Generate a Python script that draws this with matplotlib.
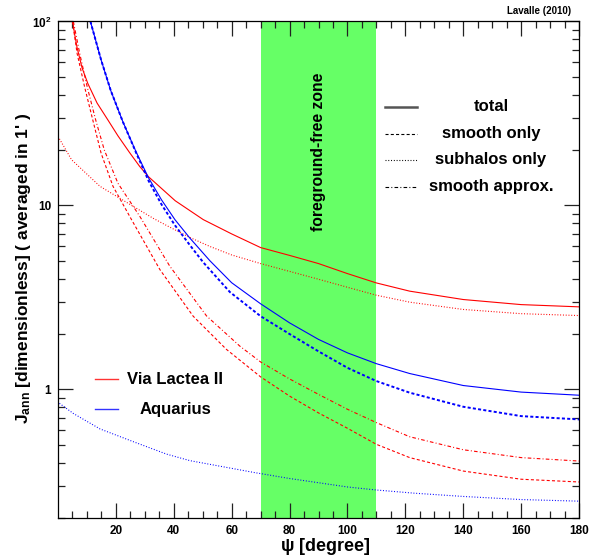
import numpy as np
import matplotlib
matplotlib.use("Agg")
from matplotlib import pyplot as plt
from matplotlib.lines import Line2D
import matplotlib.transforms as mtransforms

plt.rcParams['font.family'] = ['Liberation Sans', 'DejaVu Sans']
plt.rcParams['font.weight'] = 'bold'
plt.rcParams['mathtext.fontset'] = 'custom'
plt.rcParams['mathtext.rm'] = 'Liberation Sans:bold'
plt.rcParams['mathtext.bf'] = 'Liberation Sans:bold'
plt.rcParams['mathtext.it'] = 'Liberation Sans:bold'
plt.rcParams['lines.scale_dashes'] = False

# Via Lactea II
vl_tot_x = [5.1, 5.7, 6.6, 8.3, 10.3, 13.5, 17.2, 20.7, 24.7, 28.2, 31.3, 40.5, 50.2, 60, 70, 80, 90, 100, 110, 121.5, 140, 160, 180]
vl_tot_y = [100, 86, 72, 56, 46, 36, 29.2, 23.9, 19.4, 16.3, 14.3, 10.6, 8.37, 7.0, 5.9, 5.35, 4.83, 4.26, 3.79, 3.42, 3.08, 2.89, 2.81]

vl_sm_x = [5.0, 6.6, 9.2, 12, 14.9, 19, 25.4, 35.2, 46.7, 58.2, 70, 80, 90, 100, 110, 121.5, 140, 160, 180]
vl_sm_y = [100, 67, 44, 29.2, 19.2, 12.7, 8.37, 4.48, 2.50, 1.65, 1.17, 0.92, 0.745, 0.615, 0.503, 0.426, 0.36, 0.325, 0.314]

vl_sub_x = [0.5, 4.7, 14.5, 25.9, 32.9, 37.5, 45.5, 52.5, 60, 70, 80, 90, 100, 110, 121.5, 140, 160, 180]
vl_sub_y = [23, 17.7, 12.7, 9.9, 8.51, 7.78, 6.70, 5.98, 5.38, 4.83, 4.38, 3.97, 3.59, 3.25, 2.98, 2.72, 2.58, 2.52]

vl_ap_x = [5.3, 7.5, 10.1, 13, 16, 20.7, 28.3, 38.6, 51.3, 62.8, 70, 80, 90, 100, 110, 121.5, 140, 160, 180]
vl_ap_y = [100, 67, 44, 29.2, 20.0, 13.2, 8.7, 4.68, 2.51, 1.72, 1.41, 1.14, 0.94, 0.78, 0.66, 0.553, 0.470, 0.426, 0.408]

# Aquarius
aq_tot_x = [11.2, 14.9, 18.2, 22.4, 27, 31.3, 35.8, 40.4, 45.5, 52.5, 60, 70, 80, 90, 100, 110, 121.5, 140, 160, 180]
aq_tot_y = [100, 61.7, 42.2, 28.5, 19.5, 14.1, 10.7, 8.37, 6.66, 5.0, 3.8, 2.92, 2.30, 1.87, 1.58, 1.38, 1.22, 1.05, 0.967, 0.93]

aq_sm_x = [11.2, 14.9, 18.2, 22.4, 27, 31.3, 35.8, 40.4, 45.5, 50.2, 59.4, 70, 80, 90, 100, 110, 121.5, 140, 160, 180]
aq_sm_y = [100, 61.7, 42.2, 28.5, 19.3, 13.6, 10.1, 7.8, 6.1, 4.9, 3.38, 2.5, 2.00, 1.61, 1.31, 1.11, 0.96, 0.805, 0.716, 0.687]

aq_sub_x = [0.5, 5.3, 14.5, 26, 37.5, 45.6, 68, 80, 100, 110, 123, 140, 160, 180]
aq_sub_y = [0.84, 0.74, 0.61, 0.52, 0.445, 0.41, 0.353, 0.328, 0.295, 0.284, 0.273, 0.262, 0.252, 0.247]

zone = (70, 110)
xticks = [20, 40, 60, 80, 100, 120, 140, 160, 180]
yticks = [1, 10, 100]
ylabels = ['1', '10', r'$\mathbf{10^{2}}$']

DASH = (0, (2.2, 1.6))
DOT = (0, (0.7, 1.3))
DASHDOT = (0, (2.6, 1.6, 0.7, 1.6))

fig = plt.figure(figsize=(5.93, 5.56), dpi=100)
ax = fig.add_axes([0.0978, 0.0683, 0.9764 - 0.0978, 0.9615 - 0.0683])

ax.axvspan(zone[0], zone[1], color='#66ff66', lw=0, zorder=0)

red = '#ff0000'
blue = '#0000ff'
ax.plot(vl_tot_x, vl_tot_y, color=red, lw=0.8)
ax.plot(vl_sm_x, vl_sm_y, color=red, lw=0.8, ls=DASH)
ax.plot(vl_sub_x, vl_sub_y, color=red, lw=0.8, ls=DOT)
ax.plot(vl_ap_x, vl_ap_y, color=red, lw=0.8, ls=DASHDOT)
ax.plot(aq_tot_x, aq_tot_y, color=blue, lw=0.8)
ax.plot(aq_sm_x, aq_sm_y, color=blue, lw=1.4, ls=DASH)
ax.plot(aq_sub_x, aq_sub_y, color=blue, lw=0.8, ls=DOT)

ax.set_yscale('log')
ax.set_xlim(0, 180)
ax.set_ylim(0.2, 100)
ax.set_xticks(xticks)
ax.set_xticks(np.arange(5, 180, 5), minor=True)
ax.set_yticks(yticks)
ax.set_yticklabels(ylabels)
ax.yaxis.set_minor_formatter(matplotlib.ticker.NullFormatter())
ax.tick_params(which='both', direction='in', top=True, right=True, labelsize=8.5, width=0.9, color='#222222')
ax.tick_params(which='major', length=10.5, pad=5)
ax.tick_params(which='minor', length=5)
for s in ax.spines.values():
    s.set_linewidth(0.9)

# foreground zone label
trans = mtransforms.blended_transform_factory(ax.transData, ax.transAxes)
ax.text(90, 0.737, 'foreground-free zone', transform=trans, rotation=90,
        ha='center', va='center', fontsize=11.3, fontweight='bold')

# line style legend
styles = [('total', '-', 1.8, '#555555'), ('smooth only', DASH, 0.8, 'black'),
          ('subhalos only', DOT, 0.8, 'black'), ('smooth approx.', DASHDOT, 0.8, 'black')]
rows = [0.828, 0.774, 0.721, 0.667]
for (lab, ls, lw, c), yy in zip(styles, rows):
    ax.add_line(Line2D([0.628, 0.689], [yy, yy], transform=ax.transAxes, ls=ls, lw=lw, color=c))
    ax.text(0.831, yy, lab, transform=ax.transAxes, ha='center', va='center', fontsize=12, fontweight='bold')

# halo legend
for lab, c, yy in [('Via Lactea II', red, 0.279), ('Aquarius', blue, 0.219)]:
    ax.add_line(Line2D([0.071, 0.115], [yy, yy], transform=ax.transAxes, lw=1.0, color=c, alpha=0.8))
    ax.text(0.2246, yy, lab, transform=ax.transAxes, ha='center', va='center', fontsize=12, fontweight='bold')

fig.text(0.963, 0.980, 'Lavalle (2010)', ha='right', va='center', fontsize=7, fontweight='bold')
fig.text(0.548, 0.017, r'$\psi$ [degree]', ha='center', va='center', fontsize=13, fontweight='bold')
fig.text(0.040, 0.518, r"J$_{\mathbf{ann}}$ [dimensionless] ( averaged in 1' )", rotation=90,
         ha='center', va='center', fontsize=12.5, fontweight='bold')

fig.savefig('out.png', dpi=100)
